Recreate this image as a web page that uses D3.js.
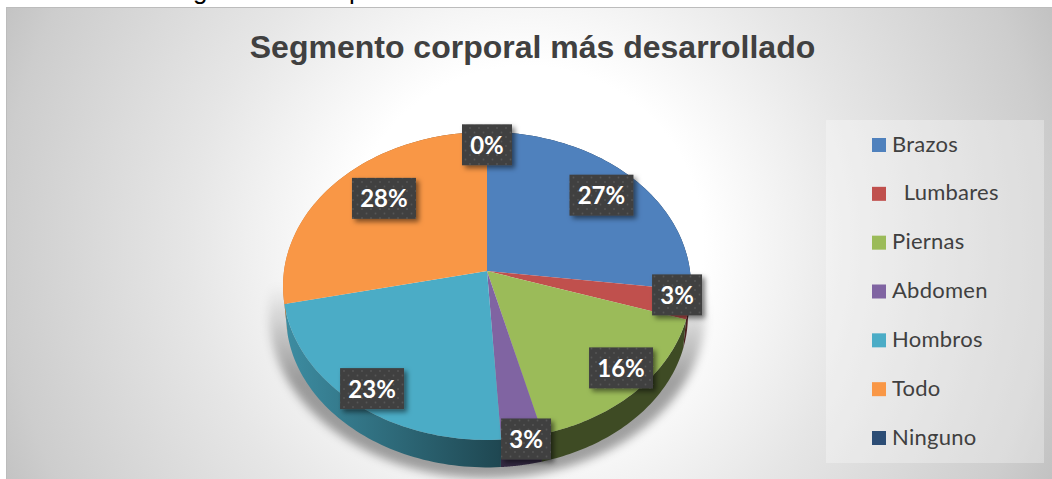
<!DOCTYPE html>
<html><head><meta charset="utf-8">
<script src="https://cdnjs.cloudflare.com/ajax/libs/d3/7.8.5/d3.min.js"></script>
<style>html,body{margin:0;padding:0;background:#fff;overflow:hidden}svg{display:block}</style>
</head><body>
<svg id="c" width="1052" height="479" xmlns="http://www.w3.org/2000/svg"></svg>
<script>
const chartTitle = "Segmento corporal más desarrollado";
const categories = ["Brazos", "  Lumbares", "Piernas", "Abdomen", "Hombros", "Todo", "Ninguno"];
const shares = [27, 3, 16, 3, 22.6, 28.4, 0];
const colors = ["#4f81bd", "#c0504d", "#9bbb59", "#8064a2", "#4bacc6", "#f99746", "#2c4d75"];
// label placement on the pie plane (fraction of radius, angle shift in degrees)
const labelRadius = [0.79, 0.935, 0.863, 1.01, 0.89, 0.73, 0.90];
const labelShift = [0, -3.1, -2.9, -0.9, -0.8, 4.3, 0];

const W = 1052, H = 479;
const svg = d3.select("#c");
const defs = svg.append("defs");

// background
const bg = defs.append("radialGradient").attr("id", "bg").attr("gradientUnits", "userSpaceOnUse")
  .attr("cx", 526).attr("cy", 243).attr("r", 590);
[[0, "#fff"], [.3, "#fff"], [.57, "#e6e6e6"], [.89, "#cdcdcd"], [1, "#bfbfbf"]]
  .forEach(s => bg.append("stop").attr("offset", s[0]).attr("stop-color", s[1]));

defs.append("filter").attr("id", "blur").attr("x", "-20%").attr("y", "-20%").attr("width", "140%").attr("height", "140%")
  .append("feGaussianBlur").attr("stdDeviation", 5);
const ds = defs.append("filter").attr("id", "lblShadow").attr("x", "-30%").attr("y", "-30%").attr("width", "170%").attr("height", "170%");
ds.append("feDropShadow").attr("dx", 3).attr("dy", 3).attr("stdDeviation", 2.6).attr("flood-color", "#000").attr("flood-opacity", .5);

const pat = defs.append("pattern").attr("id", "dots").attr("patternUnits", "userSpaceOnUse").attr("width", 9).attr("height", 9);
pat.append("rect").attr("width", 9).attr("height", 9).attr("fill", "#404040");
[[2, 2], [6.5, 6.5]].forEach(p => pat.append("circle").attr("cx", p[0]).attr("cy", p[1]).attr("r", .9).attr("fill", "#565656"));

const sg = defs.append("linearGradient").attr("id", "shadowG").attr("gradientUnits", "userSpaceOnUse")
  .attr("x1", 0).attr("x2", 0).attr("y1", 285).attr("y2", 380);
sg.append("stop").attr("offset", 0).attr("stop-color", "#000").attr("stop-opacity", 0);
sg.append("stop").attr("offset", 1).attr("stop-color", "#000").attr("stop-opacity", .36);

svg.append("rect").attr("x", 6.5).attr("y", 7.5).attr("width", W).attr("height", H).attr("fill", "url(#bg)").attr("stroke", "#bcbcbc");

// clipped line of the surrounding document
svg.append("text").attr("x", 193).attr("y", -1).attr("font-family", "Liberation Sans").attr("font-size", 26).attr("fill", "#000").text("g");
svg.append("text").attr("x", 349).attr("y", -1).attr("font-family", "Liberation Sans").attr("font-size", 26).attr("fill", "#000").text("p");

// title
svg.append("text").attr("x", 532.5).attr("y", 58).attr("text-anchor", "middle")
  .attr("font-family", "Liberation Sans").attr("font-weight", "bold").attr("font-size", 32)
  .attr("fill", "#404040").text(chartTitle);

// perspective projection of the pie plane
const cx = 487, cy = 271, R = 203, A = 152.5, P = 0.0973, depth = 30;
const px = d3.scaleLinear().domain([-1, 1]).range([cx - R, cx + R]);
const py = d3.scaleLinear().domain([-1, 1]).range([cy - A, cy + A]);
function project(angle, r, low) {
  const u = r * Math.sin(angle), v = -r * Math.cos(angle);
  const s = 1 / (1 - P * v), k = low ? 0.985 : 1;
  return [cx + (px(u) - cx) * s * k, cy + (py(v) - cy) * s * k + (low ? depth : 0)];
}
const line = d3.line();
const arcs = d3.pie().sort(null).value(d => d)(shares);
const steps = a => d3.range(0, 61).map(i => a.startAngle + (a.endAngle - a.startAngle) * i / 60);

// soft shadow under the pie
const shadowLine = d3.range(0, 181).map(i => i / 180 * 2 * Math.PI);
svg.append("path").attr("d", line(shadowLine.map(t => {
    const p = project(t, 1.085, true); return [p[0], p[1] - 5];
  })) + "Z").attr("fill", "url(#shadowG)").attr("filter", "url(#blur)");

// side wall
arcs.forEach((a, i) => {
  if (a.endAngle - a.startAngle <= 0) return;
  const id = "wall" + i, base = d3.rgb(colors[i]);
  const g = defs.append("linearGradient").attr("id", id).attr("gradientUnits", "userSpaceOnUse")
    .attr("x1", cx - R).attr("x2", cx + 20).attr("y1", 0).attr("y2", 0);
  const f = m => d3.rgb(base.r * m, base.g * m, base.b * m).formatHex();
  g.append("stop").attr("offset", 0).attr("stop-color", f(.82));
  g.append("stop").attr("offset", 1).attr("stop-color", f(.4));
  const t = steps(a);
  const poly = t.map(x => project(x, 1, false)).concat(t.slice().reverse().map(x => project(x, 1, true)));
  svg.append("path").attr("d", line(poly) + "Z").attr("fill", `url(#${id})`);
});

// top faces
svg.append("g").selectAll("path").data(arcs.filter(a => a.endAngle > a.startAngle)).join("path")
  .attr("d", a => line([[cx, cy]].concat(steps(a).map(x => project(x, 1, false)))) + "Z")
  .attr("fill", a => colors[a.index]);

// data labels
const boxH = 41;
const lbl = svg.append("g").attr("font-family", "Lato").attr("font-weight", "bold").attr("font-size", 24);
arcs.forEach((a, i) => {
  const mid = (a.startAngle + a.endAngle) / 2 + labelShift[i] * Math.PI / 180;
  const [x, y] = project(mid, labelRadius[i], false);
  const txt = Math.round(shares[i]) + "%";
  const w = txt.length === 3 ? 64 : 50;
  lbl.append("rect").attr("x", x - w / 2).attr("y", y - boxH / 2).attr("width", w).attr("height", boxH)
    .attr("fill", "url(#dots)").attr("filter", "url(#lblShadow)");
  lbl.append("text").attr("x", x).attr("y", y + 9).attr("text-anchor", "middle").attr("fill", "#fff").text(txt);
});

// legend
svg.append("rect").attr("x", 826).attr("y", 120).attr("width", 218).attr("height", 343).attr("fill", "#fff").attr("fill-opacity", .3);
const ly = d3.scalePoint().domain(categories).range([145, 438]);
const leg = svg.append("g").selectAll("g").data(categories).join("g");
leg.append("rect").attr("x", 872).attr("y", d => ly(d) - 7).attr("width", 14).attr("height", 14).attr("fill", (d, i) => colors[i]);
leg.append("text").attr("x", 892).attr("y", d => ly(d) + 6.5).attr("xml:space", "preserve").style("white-space", "pre")
  .attr("font-family", "Lato").attr("font-size", 22).attr("letter-spacing", .25).attr("fill", "#404040").text(d => d);
</script>
</body></html>
